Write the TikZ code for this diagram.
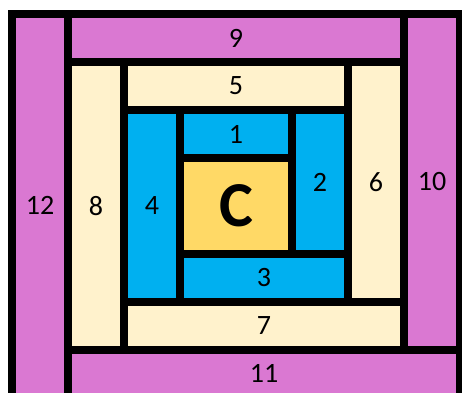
\documentclass[tikz,border=0pt]{standalone}
\usepackage{fontspec}
\setmainfont{Carlito}
\definecolor{pinkc}{HTML}{DA78D2}
\definecolor{creamc}{HTML}{FFF2CC}
\definecolor{bluec}{HTML}{00B0F0}
\definecolor{yellowc}{HTML}{FFD966}
\begin{document}
\begin{tikzpicture}[x=1pt,y=-1pt,
  cell/.style={rectangle,draw=none,inner sep=0pt,outer sep=0pt,
    font=\fontsize{28}{31}\selectfont,text=black},
  pinkbox/.style={cell,fill=pinkc},
  creambox/.style={cell,fill=creamc},
  bluebox/.style={cell,fill=bluec},
  centerbox/.style={cell,fill=yellowc,font=\fontsize{64}{70}\selectfont\bfseries}]
\useasboundingbox[fill=white] (0,0) rectangle (462,393);
\fill[black] (8,10) rectangle (462,393);
\node[pinkbox,minimum width=48pt,minimum height=375pt] (p12) at (40,205.5) {12};
\node[pinkbox,minimum width=328pt,minimum height=40pt] (p9) at (236,38) {9};
\node[pinkbox,minimum width=48pt,minimum height=328pt] (p10) at (432,182) {10};
\node[pinkbox,minimum width=384pt,minimum height=39pt] (p11) at (264,373.5) {11};
\node[creambox,minimum width=48pt,minimum height=280pt] (c8) at (96,206) {8};
\node[creambox,minimum width=216pt,minimum height=40pt] (c5) at (236,86) {5};
\node[creambox,minimum width=48pt,minimum height=232pt] (c6) at (376,182) {6};
\node[creambox,minimum width=272pt,minimum height=40pt] (c7) at (264,326) {7};
\node[bluebox,minimum width=48pt,minimum height=184pt] (b4) at (152,206) {4};
\node[bluebox,minimum width=104pt,minimum height=40pt] (b1) at (236,134) {1};
\node[bluebox,minimum width=48pt,minimum height=136pt] (b2) at (320,182) {2};
\node[bluebox,minimum width=160pt,minimum height=40pt] (b3) at (264,278) {3};
\node[centerbox,minimum width=104pt,minimum height=88pt] (cc) at (236,206) {C};
\end{tikzpicture}
\end{document}
